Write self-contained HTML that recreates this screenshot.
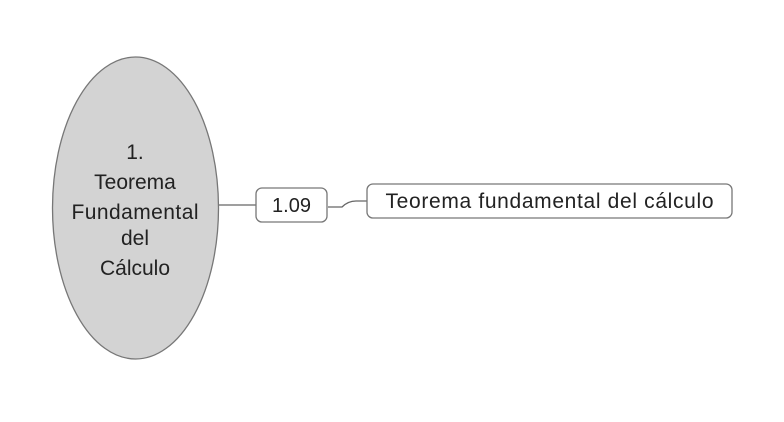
<!DOCTYPE html>
<html><head><meta charset="utf-8"><style>
html,body{margin:0;padding:0;background:#fff;}
body{width:784px;height:417px;overflow:hidden;}
</style></head><body>
<svg width="784" height="417" xmlns="http://www.w3.org/2000/svg" font-family="Liberation Sans, Arial, sans-serif" fill="#222">
<line x1="219" y1="205" x2="256" y2="205" stroke="#666" stroke-width="1.3"/>
<path d="M328 207 L342 207 Q348 201 356 201 L367 201" fill="none" stroke="#666" stroke-width="1.3"/>
<ellipse cx="135.5" cy="208" rx="83" ry="151" fill="#d3d3d3" stroke="#777" stroke-width="1.3"/>
<g font-size="21" text-anchor="middle">
<text x="135" y="159">1.</text>
<text x="135" y="189">Teorema</text>
<text x="135" y="219" textLength="127">Fundamental</text>
<text x="135" y="245">del</text>
<text x="135" y="275">Cálculo</text>
</g>
<rect x="256" y="188" width="71" height="34" rx="6" fill="#fff" stroke="#777" stroke-width="1.3"/>
<text x="291.5" y="212" font-size="20" text-anchor="middle">1.09</text>
<rect x="367" y="184" width="365" height="34" rx="6" fill="#fff" stroke="#777" stroke-width="1.3"/>
<text x="549.5" y="208" font-size="21" text-anchor="middle" textLength="328">Teorema fundamental del cálculo</text>
</svg>
</body></html>
